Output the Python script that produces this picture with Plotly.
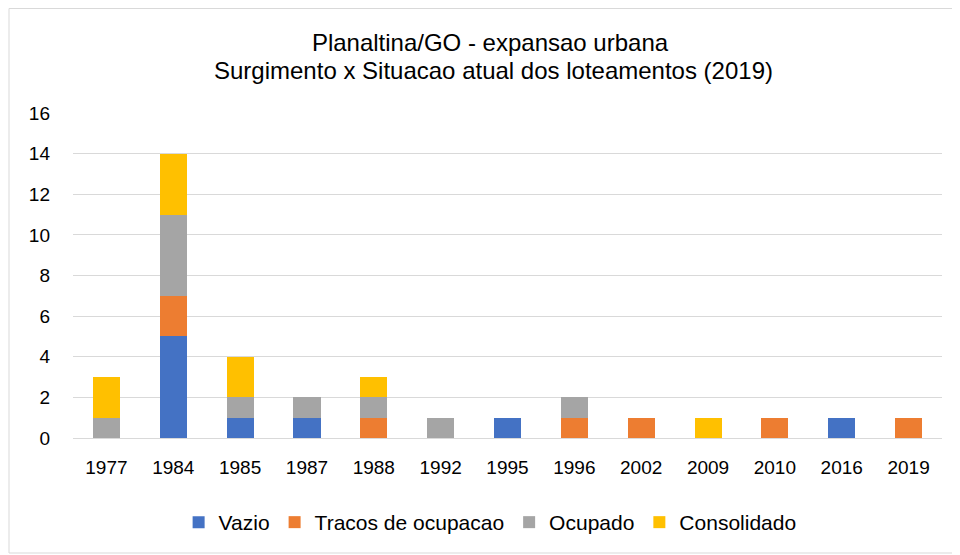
import plotly.graph_objects as go

years = ["1977", "1984", "1985", "1987", "1988", "1992", "1995", "1996", "2002", "2009", "2010", "2016", "2019"]
vazio = [0, 5, 1, 1, 0, 0, 1, 0, 0, 0, 0, 1, 0]
tracos = [0, 2, 0, 0, 1, 0, 0, 1, 1, 0, 1, 0, 1]
ocupado = [1, 4, 1, 1, 1, 1, 0, 1, 0, 0, 0, 0, 0]
consolidado = [2, 3, 2, 0, 1, 0, 0, 0, 0, 1, 0, 0, 0]

title_line1 = "Planaltina/GO - expansao urbana"
title_line2 = "Surgimento x Situacao atual dos loteamentos (2019)"

series = [
    ("Vazio", vazio, "#4472C4"),
    ("Tracos de ocupacao", tracos, "#ED7D31"),
    ("Ocupado", ocupado, "#A5A5A5"),
    ("Consolidado", consolidado, "#FFC000"),
]

fig = go.Figure()
for name, vals, color in series:
    fig.add_trace(go.Bar(x=years, y=vals, name=name, marker=dict(color=color, line=dict(width=0))))

# page body has an 8px default margin; figure sized to fill the rest of the window
W, H = 952, 547
ml, mr, mt, mb = 65, 18, 105, 117
pw, ph = W - ml - mr, H - mt - mb

fig.update_layout(
    width=W, height=H,
    barmode="stack",
    bargap=0.595,
    plot_bgcolor="white",
    paper_bgcolor="white",
    margin=dict(l=ml, r=mr, t=mt, b=mb, autoexpand=False),
    font=dict(family="Liberation Sans, Arial, sans-serif", size=19, color="#000000"),
    title=dict(
        text=title_line1,
        x=0.5063, xanchor="center", y=1 - 34.5 / H, yanchor="middle",
        font=dict(family="Liberation Sans, Arial, sans-serif", size=24, color="#000000"),
    ),
    annotations=[dict(
        text=title_line2, showarrow=False,
        xref="paper", yref="paper", x=(485 - ml) / pw, y=1 + (mt - 62.5) / ph,
        xanchor="center", yanchor="middle",
        font=dict(family="Liberation Sans, Arial, sans-serif", size=24, color="#000000"),
    )],
    xaxis=dict(
        type="category", showgrid=False, showline=True, linecolor="#D9D9D9", linewidth=1,
        ticks="", tickfont=dict(size=19), ticklabelstandoff=12,
    ),
    yaxis=dict(
        range=[0, 16], dtick=2, showgrid=True, gridcolor="#D9D9D9", gridwidth=1,
        zeroline=False, showline=False, ticks="", tickfont=dict(size=19),
        ticklabelstandoff=22,
    ),
    legend=dict(
        orientation="h", x=0.48, xanchor="center", y=-0.26, yanchor="middle",
        font=dict(size=21), itemwidth=30, traceorder="normal",
    ),
    shapes=[dict(
        type="rect", xref="paper", yref="paper",
        x0=(1 - ml) / pw, x1=(951 - ml) / pw,
        y0=-(545 - mt - ph) / ph, y1=1 + (mt - 0.5) / ph,
        line=dict(color="#D9D9D9", width=1), fillcolor="rgba(0,0,0,0)", layer="below",
    )],
)

fig.write_html("out.html")
